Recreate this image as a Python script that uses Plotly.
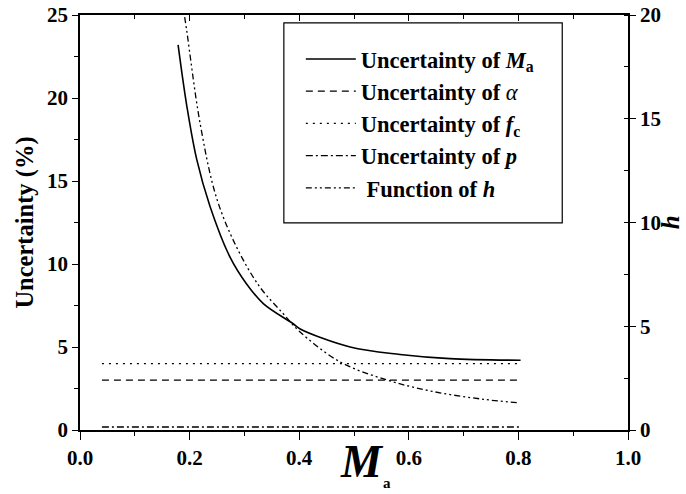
import plotly.graph_objects as go

# flat uncertainty lines (alpha, f_c, p)
flat_x = [0.04, 0.805]
unc_alpha = [3.0, 3.0]
unc_fc = [4.0, 4.0]
unc_p = [0.18, 0.18]

# uncertainty of M_a (left axis, %)
ma_x = [0.179, 0.195, 0.213, 0.237, 0.274, 0.304, 0.335, 0.389, 0.401, 0.493, 0.584, 0.675, 0.804]
unc_ma = [23.2, 19.5, 16.3, 13.5, 10.4, 8.8, 7.6, 6.4, 6.1, 5.0, 4.55, 4.3, 4.2]

# function h (right axis)
h_x = [0.191, 0.195, 0.219, 0.249, 0.286, 0.328, 0.371, 0.401, 0.474, 0.56, 0.645, 0.736, 0.797]
h_val = [19.9, 19.2, 14.8, 11.2, 8.8, 6.9, 5.6, 4.74, 3.29, 2.41, 1.85, 1.48, 1.32]

FONT = "Liberation Serif"

fig = go.Figure()
fig.add_trace(go.Scatter(x=ma_x, y=unc_ma, mode="lines", line_shape="spline",
                         line=dict(color="black", width=1.6),
                         name="<b>Uncertainty of <i>M</i><sub>a</sub></b>", legendgroup="a"))
fig.add_trace(go.Scatter(x=flat_x, y=unc_alpha, mode="lines",
                         line=dict(color="black", width=1.3, dash="7px,5px"),
                         name="<b>Uncertainty of </b><i>α</i>", legendgroup="b"))
fig.add_trace(go.Scatter(x=flat_x, y=unc_fc, mode="lines",
                         line=dict(color="black", width=1.3, dash="2px,5px"),
                         name="<b>Uncertainty of <i>f</i><sub>c</sub></b>", legendgroup="c"))
fig.add_trace(go.Scatter(x=flat_x, y=unc_p, mode="lines",
                         line=dict(color="black", width=1.3, dash="7px,3px,2px,3px"),
                         name="<b>Uncertainty of <i>p</i></b>", legendgroup="d"))
fig.add_trace(go.Scatter(x=h_x, y=h_val, mode="lines", line_shape="spline", yaxis="y2",
                         line=dict(color="black", width=1.3, dash="6px,3px,2px,3px,2px,3px"),
                         name="<b> Function of <i>h</i></b>", legendgroup="e"))
# dummy trace for top axis ticks
fig.add_trace(go.Scatter(x=[0, 1], y=[None, None], xaxis="x2", showlegend=False, hoverinfo="skip"))

fig.update_layout(
    width=686, height=494,
    margin=dict(l=80, r=58, t=15, b=64, autoexpand=False),
    plot_bgcolor="white", paper_bgcolor="white",
    font=dict(family=FONT, size=21, color="black"),
    showlegend=True,
    legend=dict(x=0.403, y=0.945, xanchor="left", yanchor="top",
                borderwidth=0, bgcolor="rgba(0,0,0,0)",
                font=dict(family=FONT, size=22.5), tracegroupgap=0,
                itemwidth=50),
    xaxis=dict(range=[0, 1], dtick=0.2, tickformat=".1f", showgrid=False, zeroline=False,
               showline=True, linecolor="black", linewidth=1.5, mirror=True, automargin=False,
               ticks="outside", ticklen=8, tickwidth=1.3, tickcolor="black",
               minor=dict(ticks="outside", dtick=0.1, ticklen=4, tickcolor="black"),
               tickfont=dict(family=FONT, size=21, weight="bold")),
    xaxis2=dict(range=[0, 1], overlaying="x", side="top", showgrid=False, zeroline=False,
                showticklabels=False, ticks="inside", dtick=0.2, ticklen=6, tickwidth=1.2,
                tickcolor="black", automargin=False,
                minor=dict(ticks="inside", dtick=0.1, ticklen=4, tickcolor="black")),
    yaxis=dict(range=[0, 25], dtick=5, showgrid=False, zeroline=False,
               showline=True, linecolor="black", linewidth=1.5, automargin=False,
               ticks="outside", ticklen=6, tickwidth=1.3, tickcolor="black",
               minor=dict(ticks="outside", dtick=2.5, ticklen=4, tickcolor="black"),
               tickfont=dict(family=FONT, size=21, weight="bold"),
               title=dict(text="<b>Uncertainty (%)</b>", font=dict(family=FONT, size=24.5), standoff=6)),
    yaxis2=dict(range=[0, 20], dtick=5, overlaying="y", side="right", showgrid=False, zeroline=False,
                showline=True, linecolor="black", linewidth=1.5, automargin=False,
                ticks="outside", ticklen=6, tickwidth=1.3, tickcolor="black",
                minor=dict(ticks="inside", dtick=2.5, ticklen=4, tickcolor="black"),
                tickfont=dict(family=FONT, size=21, weight="bold")),
)

# legend frame
fig.add_shape(type="rect", xref="paper", yref="paper", x0=0.372, x1=0.880, y0=0.499, y1=0.981,
              line=dict(color="black", width=1.2), fillcolor="rgba(0,0,0,0)", layer="below")

# right axis title h
fig.add_annotation(x=1.078, y=0.5, xref="paper", yref="paper", text="<b><i>h</i></b>",
                   xanchor="center", yanchor="middle",
                   showarrow=False, textangle=-90, font=dict(family=FONT, size=25))

# big M_a axis title sitting among the tick labels
fig.add_annotation(x=0.515, y=-0.01, xref="paper", yref="paper", text="<b><i>M</i></b>",
                   showarrow=False, yanchor="top", font=dict(family=FONT, size=46))
fig.add_annotation(x=0.56, y=-0.128, xref="paper", yref="paper", text="<b>a</b>",
                   showarrow=False, yanchor="middle", font=dict(family=FONT, size=15))

fig.write_html("out.html", post_script="document.body.style.margin='0';",
               config={"displayModeBar": False})
